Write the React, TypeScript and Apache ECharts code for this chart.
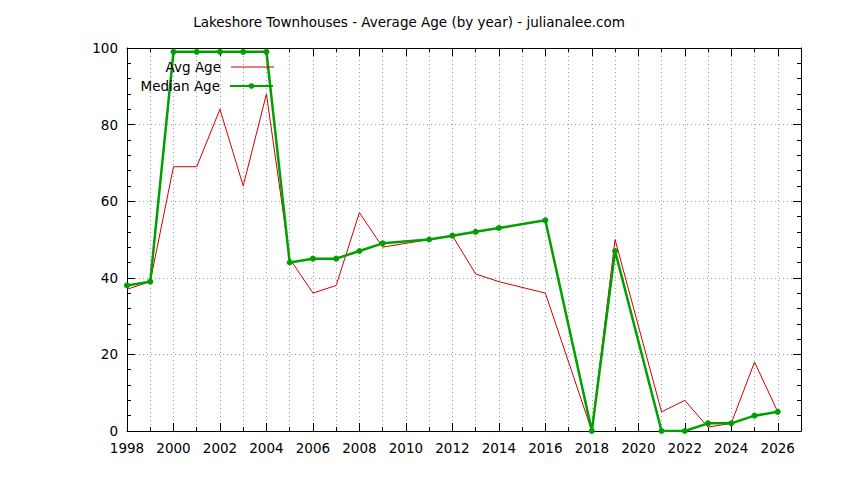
import React, { useEffect, useRef } from 'react'
import * as echarts from 'echarts'

// years that have sales (2010, 2015, 2017, 2020 have none)
const years = [1998, 1999, 2000, 2001, 2002, 2003, 2004, 2005, 2006, 2007, 2008, 2009, 2011, 2012, 2013, 2014, 2016, 2018, 2019, 2021, 2022, 2023, 2024, 2025, 2026]
const avgAge = [37, 39, 69, 69, 84, 64, 88, 45, 36, 38, 57, 48, 50, 51, 41, 39, 36, 0, 50, 5, 8, 1, 2, 18, 5]
const medianAge = [38, 39, 99, 99, 99, 99, 99, 44, 45, 45, 47, 49, 50, 51, 52, 53, 55, 0, 47, 0, 0, 2, 2, 4, 5]

const FONT = 'DejaVu Sans'
const gridLine = { show: true, lineStyle: { color: '#a0a0a0', type: [1, 3], width: 1 } }

const App: React.FC = () => {
    const chartRef = useRef(null)

    useEffect(() => {
        const chart = echarts.init(chartRef.current, null, { renderer: 'svg' })

        const xBase = {
            type: 'value',
            min: 1998,
            max: 2027,
            interval: 2,
            axisLine: { show: true, onZero: false, lineStyle: { color: '#000', width: 1 } },
            axisTick: { show: true, inside: true, length: 8, lineStyle: { color: '#000' } },
            minorTick: { show: true, splitNumber: 2, length: 4, lineStyle: { color: '#000' } },
        }
        const yBase = {
            type: 'value',
            min: 0,
            max: 100,
            interval: 20,
            axisLine: { show: true, onZero: false, lineStyle: { color: '#000', width: 1 } },
            axisTick: { show: true, inside: true, length: 8, lineStyle: { color: '#000' } },
            minorTick: { show: true, splitNumber: 5, length: 4, lineStyle: { color: '#000' } },
        }

        const option = {
            animation: false,
            title: {
                text: 'Lakeshore Townhouses - Average Age (by year) - julianalee.com',
                left: 404,
                textAlign: 'center',
                top: 10,
                textStyle: { fontFamily: FONT, fontSize: 13.5, fontWeight: 'normal', color: '#000' },
            },
            legend: [
                {
                    data: [{ name: 'Avg Age', icon: 'rect' }],
                    right: 565,
                    top: 55,
                    align: 'right',
                    itemWidth: 43,
                    itemHeight: 1,
                    textStyle: { fontFamily: FONT, fontSize: 13.5, color: '#000', padding: [0, 5, 0, 0] },
                },
                {
                    data: ['Median Age'],
                    right: 565,
                    top: 74,
                    align: 'right',
                    itemWidth: 43,
                    itemHeight: 7,
                    textStyle: { fontFamily: FONT, fontSize: 13.5, color: '#000', padding: [0, 5, 0, 0] },
                },
            ],
            grid: { left: 127, right: 43, top: 48, bottom: 49 },
            xAxis: [
                {
                    ...xBase,
                    position: 'bottom',
                    axisLabel: {
                        fontFamily: FONT,
                        fontSize: 13.5,
                        color: '#000',
                        margin: 10,
                        formatter: (v: number) => (v === 2027 ? '' : String(v)),
                    },
                    splitLine: gridLine,
                    minorSplitLine: gridLine,
                },
                {
                    ...xBase,
                    position: 'top',
                    axisLabel: { show: false },
                    splitLine: { show: false },
                },
            ],
            yAxis: [
                {
                    ...yBase,
                    position: 'left',
                    axisLabel: { fontFamily: FONT, fontSize: 13.5, color: '#000', margin: 9 },
                    splitLine: gridLine,
                },
                {
                    ...yBase,
                    position: 'right',
                    axisLabel: { show: false },
                    splitLine: { show: false },
                },
            ],
            series: [
                {
                    name: 'Avg Age',
                    type: 'line',
                    data: years.map((y, i) => [y, avgAge[i]]),
                    showSymbol: false,
                    symbol: 'none',
                    color: '#d00000',
                    lineStyle: { color: '#d00000', width: 1 },
                    z: 2,
                },
                {
                    name: 'Median Age',
                    type: 'line',
                    data: years.map((y, i) => [y, medianAge[i]]),
                    symbol: 'circle',
                    symbolSize: 6,
                    color: '#00a000',
                    itemStyle: { color: '#00a000' },
                    lineStyle: { color: '#00a000', width: 2.5 },
                    z: 3,
                },
            ],
        }

        chart.setOption(option)

        return () => {
            chart.dispose()
        }
    }, [])

    return <div ref={chartRef} style={{ width: '844px', height: '480px', margin: '-8px' }} />
}

export default App
